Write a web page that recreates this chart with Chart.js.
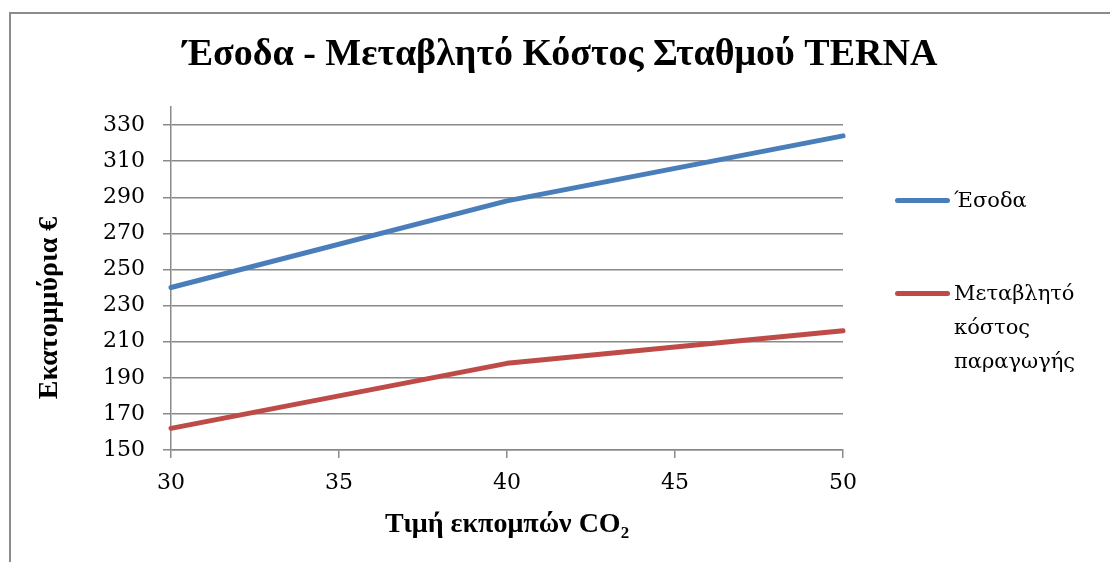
<!DOCTYPE html>
<html>
<head>
<meta charset="utf-8">
<script src="https://cdn.jsdelivr.net/npm/chart.js@4.4.1/dist/chart.umd.min.js"></script>
<style>
  html, body { margin: 0; padding: 0; background: #fff; overflow: hidden; }
  #wrap { position: relative; width: 1110px; height: 562px; }
  #frame { position: absolute; left: 9px; top: 12px; width: 1200px; height: 700px; border: 2px solid #8c8c8c; box-sizing: border-box; }
  #box { position: absolute; left: 0; top: 0; width: 1110px; height: 562px; }
  .legend { position: absolute; left: 895px; font-family: "DejaVu Serif", serif; font-size: 21px; color: #000; }
  .legend .item { position: absolute; left: 0; white-space: nowrap; }
  .legend .swatch { position: absolute; left: 0; width: 55px; height: 5px; border-radius: 3px; }
  .legend .txt { position: absolute; left: 59px; line-height: 34px; }
</style>
</head>
<body>
<div id="wrap">
  <div id="frame"></div>
  <div id="box"><canvas id="chart"></canvas></div>
  <div class="legend" id="legend"></div>
</div>
<script>
'use strict';
// x: CO2 price, y: million euro
const xValues     = [30, 40, 50];
const revenue     = [240, 288, 324];
const varCost     = [162, 198, 216];
const yTicks      = [150, 170, 190, 210, 230, 250, 270, 290, 310, 330];
const xTicks      = [30, 35, 40, 45, 50];
const seriesNames = ['Έσοδα', ['Μεταβλητό', 'κόστος', 'παραγωγής']];
const seriesColors = ['#4a7ebb', '#be4b48'];
const chartTitle  = 'Έσοδα - Μεταβλητό Κόστος Σταθμού TERNA';
const yTitle      = 'Εκατομμύρια €';
const xTitle      = 'Τιμή εκπομπών CO₂';

const GRID = '#8a8a8a';
const SERIF = '"DejaVu Serif", serif';
const BOLD  = '"Liberation Serif", "Times New Roman", serif';

// chart title is centred on the whole frame and the y title sits a bit
// lower than the plot centre, so both are drawn by hand
const titlesPlugin = {
  id: 'titles',
  afterDraw(chart) {
    const ctx = chart.ctx;
    ctx.save();
    ctx.fillStyle = '#000';
    ctx.textAlign = 'center';
    ctx.textBaseline = 'middle';
    ctx.font = 'bold 38px ' + BOLD;
    ctx.fillText(chartTitle, 560, 55);
    ctx.translate(50, 308);
    ctx.rotate(-Math.PI / 2);
    ctx.font = 'bold 28px ' + BOLD;
    ctx.fillText(yTitle, 0, 0);
    ctx.restore();
  },
};

const toPoints = vals => vals.map((v, i) => ({ x: xValues[i], y: v }));

new Chart(document.getElementById('chart'), {
  type: 'line',
  data: {
    datasets: [
      { label: 'Έσοδα', data: toPoints(revenue), borderColor: seriesColors[0] },
      { label: 'Μεταβλητό κόστος παραγωγής', data: toPoints(varCost), borderColor: seriesColors[1] },
    ].map(d => Object.assign(d, {
      borderWidth: 5, pointRadius: 0, tension: 0, fill: false,
      borderCapStyle: 'round', borderJoinStyle: 'round', clip: false,
    })),
  },
  options: {
    responsive: true, maintainAspectRatio: false, animation: false,
    layout: { padding: { left: 0, right: 267, top: 107, bottom: 0 } },
    plugins: {
      legend: { display: false },
      tooltip: { enabled: false },
      title: { display: false },
    },
    scales: {
      x: {
        type: 'linear', min: 30, max: 50,
        afterBuildTicks: s => { s.ticks = xTicks.map(v => ({ value: v })); },
        afterFit: s => { s.height = 112; },
        ticks: { color: '#000', font: { family: SERIF, size: 22 }, padding: 12, maxRotation: 0 },
        grid: { drawOnChartArea: false, drawTicks: true, tickLength: 8, color: GRID, lineWidth: 1.5 },
        border: { color: GRID, width: 1.5 },
        title: {
          display: true, text: xTitle, color: '#000',
          font: { family: BOLD, size: 28, weight: 'bold', lineHeight: 1.2 },
          padding: { top: 0, bottom: 20 },
        },
      },
      y: {
        min: 150, max: 340,
        afterBuildTicks: s => { s.ticks = yTicks.map(v => ({ value: v })); },
        afterFit: s => { s.width = 171; },
        ticks: { color: '#000', font: { family: SERIF, size: 22 }, padding: 18 },
        grid: { color: GRID, lineWidth: 1.5, tickLength: 8, tickColor: GRID },
        border: { color: GRID, width: 1.5 },
      },
    },
  },
  plugins: [titlesPlugin],
});

// html legend, second label wraps over three lines like the original
const legend = document.getElementById('legend');
const legendTops = [200, 293];
seriesNames.forEach((name, i) => {
  const lines = Array.isArray(name) ? name : [name];
  const item = document.createElement('div');
  item.className = 'item';
  item.style.top = legendTops[i] + 'px';
  item.innerHTML = `<div class="swatch" style="top:-2px;background:${seriesColors[i]}"></div>` +
    `<div class="txt" style="top:-17px">${lines.join('<br>')}</div>`;
  legend.appendChild(item);
});
</script>
</body>
</html>
